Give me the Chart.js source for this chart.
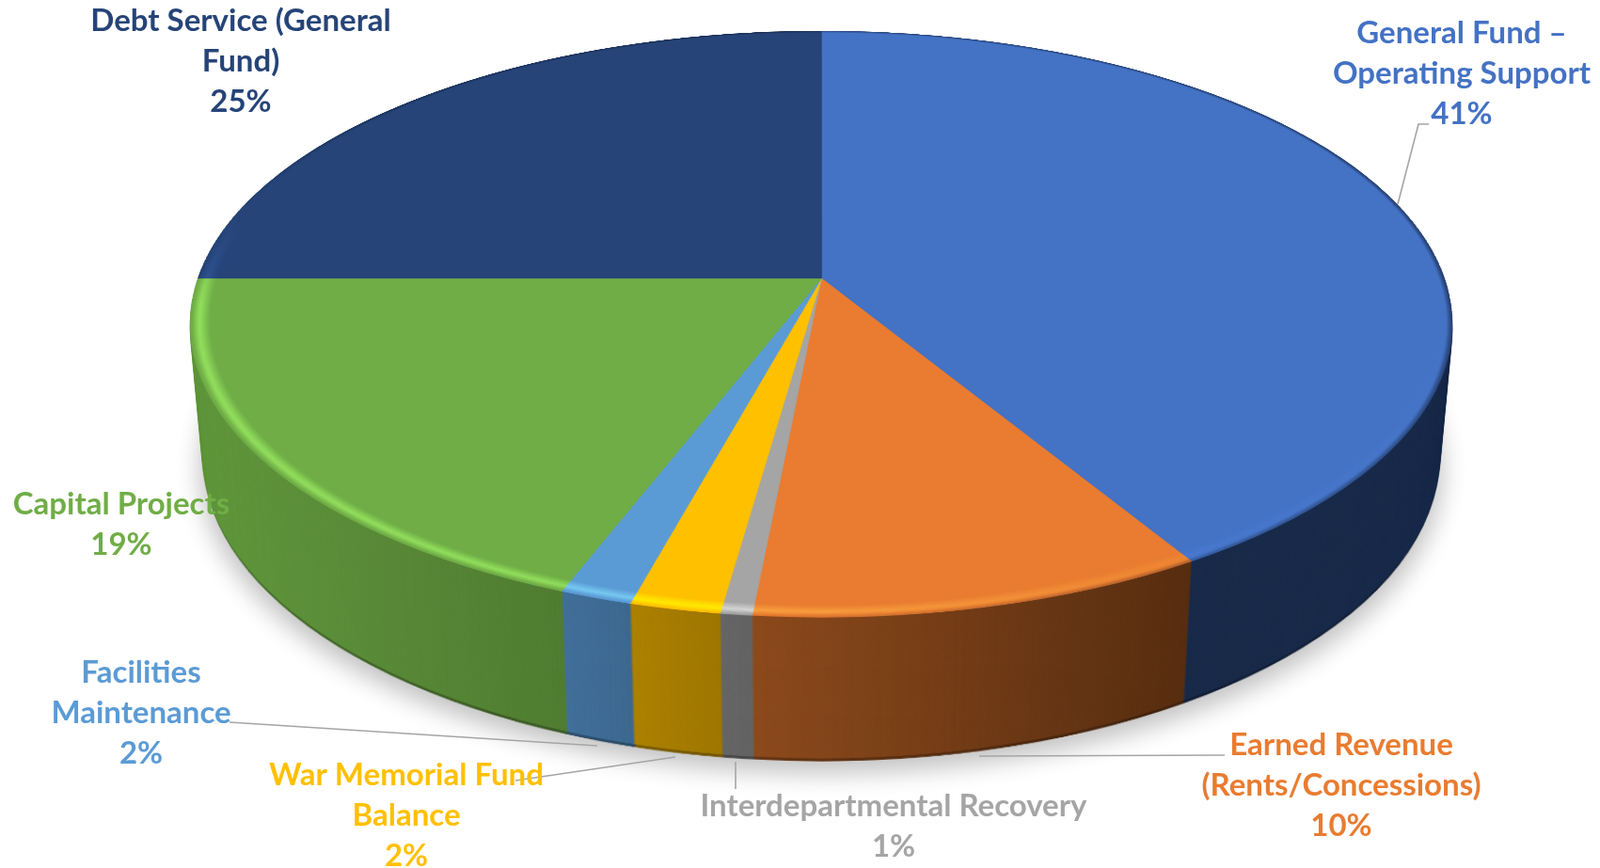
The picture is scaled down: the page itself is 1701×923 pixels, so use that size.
<!DOCTYPE html>
<html>
<head>
<meta charset="utf-8">
<style>
  html, body { margin: 0; padding: 0; background: #fff; }
  canvas { display: block; }
</style>
<script src="https://cdn.jsdelivr.net/npm/chart.js@4/dist/chart.umd.min.js"></script>
</head>
<body>
<canvas id="pieChart" width="1701" height="923"></canvas>
<script>
// Data, shares estimated from the slice edges (labels show them rounded)
const categories = ['General Fund – Operating Support', 'Earned Revenue (Rents/Concessions)', 'Interdepartmental Recovery',
    'War Memorial Fund Balance', 'Facilities Maintenance', 'Capital Projects', 'Debt Service (General Fund)'];
const shares = [41.4, 10.1, 0.7, 2.0, 1.6, 19.2, 25.0];
const sliceColors = ['#4472C4', '#E97C30', '#A5A5A5', '#FFC000', '#5B9BD5', '#70AD47', '#264478'];
const labelLines = [['General Fund –', 'Operating Support'], ['Earned Revenue', '(Rents/Concessions)'], ['Interdepartmental Recovery'],
    ['War Memorial Fund', 'Balance'], ['Facilities', 'Maintenance'], ['Capital Projects'], ['Debt Service (General', 'Fund)']];

// Label layout, page pixels: centre x and the y of the first line
const labelX = [1554, 1426, 950, 432, 150, 129, 256];
const labelY = [35, 792, 857, 824, 715, 536, 22];
const lineGap = 43.3;
const leaders = [
    [[1519, 132], [1508, 132], [1486, 217]],
    [[1302, 803], [1041, 804]],
    [[782, 839], [782, 810]],
    [[548, 830], [718, 805]],
    [[244, 768], [635, 793]]
];

// Tilted disc: screen = centre + (A*u, a*v) / (1 + b*v), u,v on the unit circle
const cx = 873, cy = 296, A = 662, a = 304, b = -0.1557;
const wallDepth = 141, wallY = 358;

const R = 800, pad = 4;

function newCanvas(w, h) {
    const c = document.createElement('canvas');
    c.width = w;
    c.height = h;
    return c;
}

function rim(ctx, stops, from, to, peak, width, color) {
    // concentric strokes whose strength follows the angle around the disc
    const conic = ctx.createConicGradient(0, R + pad, R + pad);
    stops.forEach(s => conic.addColorStop(s[0] / 360, `rgba(${color},${s[1]})`));
    ctx.strokeStyle = conic;
    ctx.lineWidth = width;
    for (let r = from; r <= to; r += 0.002) {
        const k = r < peak ? (r - from) / (peak - from) : (to - r) / (to - peak || 1);
        ctx.globalAlpha = Math.max(0, k);
        ctx.beginPath();
        ctx.arc(R + pad, R + pad, r * R, 0, Math.PI * 2);
        ctx.stroke();
    }
    ctx.globalAlpha = 1;
}

// row by row perspective copy of the flat pie
function warp(flat, W, H) {
    const out = newCanvas(W, H);
    const t = out.getContext('2d');
    const rowV = y => (y - cy) / (a - b * (y - cy));
    for (let y = 25; y < 665; y++) {
        const v0 = rowV(y), v1 = rowV(y + 1);
        const w = 1 + b * (v0 + v1) / 2;
        const dw = 2 * (R + pad) / R * A / w;
        const sy = (R + pad) + v0 * R;
        const sh = (v1 - v0) * R;
        if (sy < 0 || sy + sh > flat.height) continue;
        t.drawImage(flat, 0, sy, flat.width, sh, cx - dw / 2, y, dw, 1);
    }
    return out;
}

// The library works out the arcs, this puts them on a tilted thick disc
const tiltedDisc = {
    id: 'tiltedDisc',
    beforeDatasetsDraw(chart) {
        const arcs = chart.getDatasetMeta(0).data;
        const W = chart.width, H = chart.height;

        // flat pie
        const flat = newCanvas(2 * (R + pad), 2 * (R + pad));
        const f = flat.getContext('2d');
        const k = R / arcs[0].outerRadius;
        f.save();
        f.translate(R + pad, R + pad);
        f.scale(k, k);
        f.translate(-arcs[0].x, -arcs[0].y);
        arcs.forEach(arc => arc.draw(f));
        f.restore();

        // wall colours, darker to the right, taken before the bevel goes on
        const wall = warp(flat, W, H);
        const d = wall.getContext('2d');
        d.globalCompositeOperation = 'source-atop';
        const shade = d.createLinearGradient(203, 0, 1541, 0);
        [[0, 0.88], [0.3, 0.72], [0.37, 0.66], [0.45, 0.6], [0.79, 0.38], [1, 0.38]].forEach(s => {
            shade.addColorStop(s[0], `rgba(0,0,0,${1 - s[1]})`);
        });
        d.fillStyle = shade;
        d.fillRect(0, 0, W, H);

        // bevel on the top face
        f.globalCompositeOperation = 'color-dodge';
        rim(f, [[0, 0], [55, 0.08], [95, 0.45], [175, 0.48], [192, 0], [360, 0]], 0.97, 0.998, 0.987, 3, '64,64,64');
        f.globalCompositeOperation = 'source-atop';
        rim(f, [[0, 0.35], [60, 0.15], [100, 0], [195, 0], [215, 0.2], [300, 0.3], [360, 0.35]], 0.992, 1.004, 1.0, 3, '10,20,40');
        const top = warp(flat, W, H);

        const ctx = chart.ctx;
        const layer = (img, z) => {
            const sx = 1 - 0.02 * z, sy = 1 + 0.04 * z;
            ctx.setTransform(sx, 0, 0, sy, cx * (1 - sx), wallY + wallDepth * z - wallY * sy);
            ctx.drawImage(img, 0, 0);
        };
        ctx.save();
        // soft shadow under the disc
        ctx.filter = 'brightness(0) blur(13px) opacity(0.24)';
        const sxs = 0.985, sys = 1.04;
        ctx.setTransform(sxs, 0, 0, sys, cx * (1 - sxs), wallY + wallDepth + 13 - wallY * sys);
        ctx.drawImage(wall, 0, 0);
        ctx.filter = 'brightness(0.72)';
        layer(wall, 1);
        ctx.filter = 'none';
        for (let i = 147; i >= 0; i--) layer(wall, i / 150);
        ctx.setTransform(1, 0, 0, 1, 0, 0);
        ctx.drawImage(top, 0, 0);
        ctx.restore();
        return false;
    },
    afterDraw(chart) {
        const ctx = chart.ctx;
        ctx.save();
        ctx.strokeStyle = '#A5A5A5';
        ctx.lineWidth = 1.6;
        leaders.forEach(pts => {
            ctx.beginPath();
            pts.forEach((p, i) => i ? ctx.lineTo(p[0], p[1]) : ctx.moveTo(p[0], p[1]));
            ctx.stroke();
        });
        ctx.font = 'bold 33px Lato';
        ctx.textAlign = 'center';
        ctx.textBaseline = 'middle';
        categories.forEach((name, i) => {
            ctx.fillStyle = sliceColors[i];
            const lines = labelLines[i].concat(Math.round(shares[i]) + '%');
            lines.forEach((line, j) => ctx.fillText(line, labelX[i], labelY[i] + j * lineGap));
        });
        ctx.restore();
    }
};

const pieChart = new Chart(document.getElementById('pieChart'), {
    type: 'pie',
    data: {
        labels: categories,
        datasets: [{
            data: shares,
            backgroundColor: sliceColors,
            borderColor: sliceColors,
            borderWidth: 1
        }]
    },
    options: {
        responsive: false,
        animation: false,
        plugins: {
            legend: { display: false },
            tooltip: { enabled: false }
        }
    },
    plugins: [tiltedDisc]
});
</script>
</body>
</html>
